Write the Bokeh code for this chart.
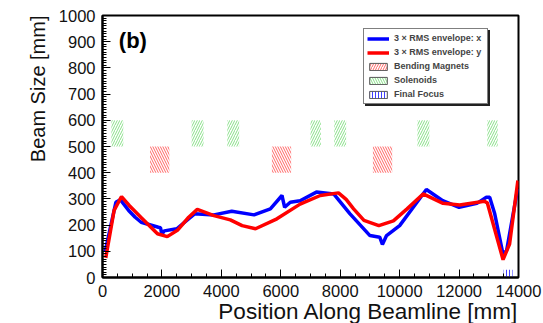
from bokeh.plotting import figure
from bokeh.models import (Range1d, SingleIntervalTicker, Legend, LegendItem, Label, Title)
from bokeh.embed import file_html
from bokeh.resources import INLINE

# ---------------- data ----------------
blue_x = [90, 450, 600, 880, 1100, 1300, 1880, 1950, 2000, 2080, 2500, 3100, 3750, 4350,
          5100, 5650, 6040, 6130, 6320, 6650, 7200, 7780, 8330, 9000, 9330, 9420, 9560,
          10000, 10900, 11450, 12000, 12600, 12920, 13030, 13200, 13480, 13600, 13970]
blue_y = [100, 287, 297, 256, 230, 211, 192, 190, 165, 178, 186, 243, 239, 253,
          239, 262, 313, 268, 287, 293, 326, 319, 243, 160, 154, 126, 160,
          198, 336, 293, 268, 283, 306, 306, 243, 88, 103, 338]

red_x = [110, 390, 640, 900, 1290, 1850, 2180, 2520, 2900, 3190, 3750, 4300, 4700, 5150,
         5870, 6650, 7330, 7940, 8200, 8450, 8800, 9300, 9790, 10250, 10790, 11460, 12020,
         12850, 12950, 13480, 13700, 13980]
red_y = [75, 256, 309, 275, 230, 167, 156, 180, 230, 260, 236, 220, 198, 186,
         224, 280, 313, 323, 298, 262, 218, 198, 216, 262, 319, 283, 277,
         291, 285, 68, 128, 370]

bend_start = [1600, 5700, 9100]
bend_end = [2250, 6350, 9750]
bend_low = [400, 400, 400]
bend_high = [500, 500, 500]

sol_start = [300, 3000, 4200, 7000, 7800, 10600, 12950]
sol_end = [700, 3400, 4600, 7350, 8200, 11000, 13300]
sol_low = [500] * 7
sol_high = [600] * 7

ff_start = [13500]
ff_end = [13800]
ff_low = [0]
ff_high = [30]

y_ticks_interval = 100
x_ticks_interval = 2000

labels = ["3 \u00d7 RMS envelope: x", "3 \u00d7 RMS envelope: y",
          "Bending Magnets", "Solenoids", "Final Focus"]

FONT = "Liberation Sans"

p = figure(width=543, height=323, output_backend="svg", toolbar_location=None,
           x_range=Range1d(0, 14000), y_range=Range1d(0, 1000),
           min_border_left=102, min_border_right=25, min_border_top=15, min_border_bottom=46)
p.grid.visible = False
p.outline_line_color = "black"
p.outline_line_width = 2
p.background_fill_color = "white"
p.border_fill_color = "white"
# a range far outside the view, used only for legend swatches (clipped away in the plot)
p.extra_y_ranges = {"legend_only": Range1d(-3000, -2000)}

for ax, itv, nm in ((p.xaxis[0], x_ticks_interval, 4), (p.yaxis[0], y_ticks_interval, 10)):
    ax.ticker = SingleIntervalTicker(interval=itv, num_minor_ticks=nm)
    ax.major_tick_in = 8
    ax.major_tick_out = 0
    ax.minor_tick_in = 4
    ax.minor_tick_out = 0
    ax.major_label_text_font = FONT
    ax.major_label_text_font_size = "16.5px"
    ax.major_label_text_color = "#111111"
    ax.major_label_standoff = 7
    ax.axis_line_width = 2
    ax.axis_label = None

# hatched boxes
hatch_kw = dict(fill_color=None, line_color=None, hatch_weight=1)
hb = p.quad(left=bend_start, right=bend_end, bottom=bend_low, top=bend_high,
            hatch_pattern="\\", hatch_color="#ff6666", hatch_scale=5, **hatch_kw)
hs = p.quad(left=sol_start, right=sol_end, bottom=sol_low, top=sol_high,
            hatch_pattern="/", hatch_color="#88e088", hatch_scale=5, **hatch_kw)
hf = p.quad(left=ff_start, right=ff_end, bottom=ff_low, top=ff_high,
            hatch_pattern="|", hatch_color="#4040ff", hatch_scale=3, **hatch_kw)

lb = p.line(blue_x, blue_y, line_color="#0000ff", line_width=3.5)
lr = p.line(red_x, red_y, line_color="#ff0000", line_width=3.5)

# legend swatches with an outline (same data, on the off-view range)
def legend_quad(src_renderer, pattern, color, scale):
    return p.quad(source=src_renderer.data_source, left="left", right="right",
                  bottom="bottom", top="top", y_range_name="legend_only",
                  fill_color="white", line_color="#555555", line_width=1,
                  hatch_pattern=pattern, hatch_color=color, hatch_scale=scale, hatch_weight=1)

gb = legend_quad(hb, "/", "#ff6666", 5)
gs = legend_quad(hs, "\\", "#88e088", 5)
gf = legend_quad(hf, "|", "#4040ff", 3)

swatches = [lb, lr, gb, gs, gf]

def make_legend(loc, shadow=False):
    if shadow:
        its = [LegendItem(label=" ", renderers=[r]) for r in swatches]
    else:
        its = [LegendItem(label=t, renderers=[r]) for t, r in zip(labels, swatches)]
    lg = Legend(items=its, location=loc)
    lg.label_text_font = FONT
    lg.label_text_font_style = "bold"
    lg.label_text_font_size = "9px"
    lg.label_height = 12
    lg.label_width = 90
    lg.glyph_height = 9
    lg.glyph_width = 22
    lg.label_standoff = 5
    lg.spacing = 2
    lg.padding = 3
    lg.margin = 0
    if shadow:
        lg.border_line_color = "#222222"
        lg.background_fill_color = "#222222"
    else:
        lg.border_line_color = "black"
        lg.background_fill_color = "white"
    lg.border_line_width = 1.5
    lg.background_fill_alpha = 1.0
    return lg

p.add_layout(make_legend((263, 171), shadow=True))
p.add_layout(make_legend((261, 173)))

p.add_layout(Label(x=550, y=905, text="(b)", text_font=FONT, text_font_style="bold",
                   text_font_size="22px", text_baseline="alphabetic", text_color="black"))

ytitle = Title(text="Beam Size [mm]", align="right", text_font=FONT, text_font_size="20px",
               text_font_style="normal", text_color="#111111", standoff=14)
p.add_layout(ytitle, "left")
xtitle = Title(text="Position Along Beamline [mm]", align="right", text_font=FONT,
               text_font_size="22.5px", text_font_style="normal", text_color="#111111",
               standoff=-5)
p.add_layout(xtitle, "below")

open("out.html", "w").write(file_html(p, INLINE))
